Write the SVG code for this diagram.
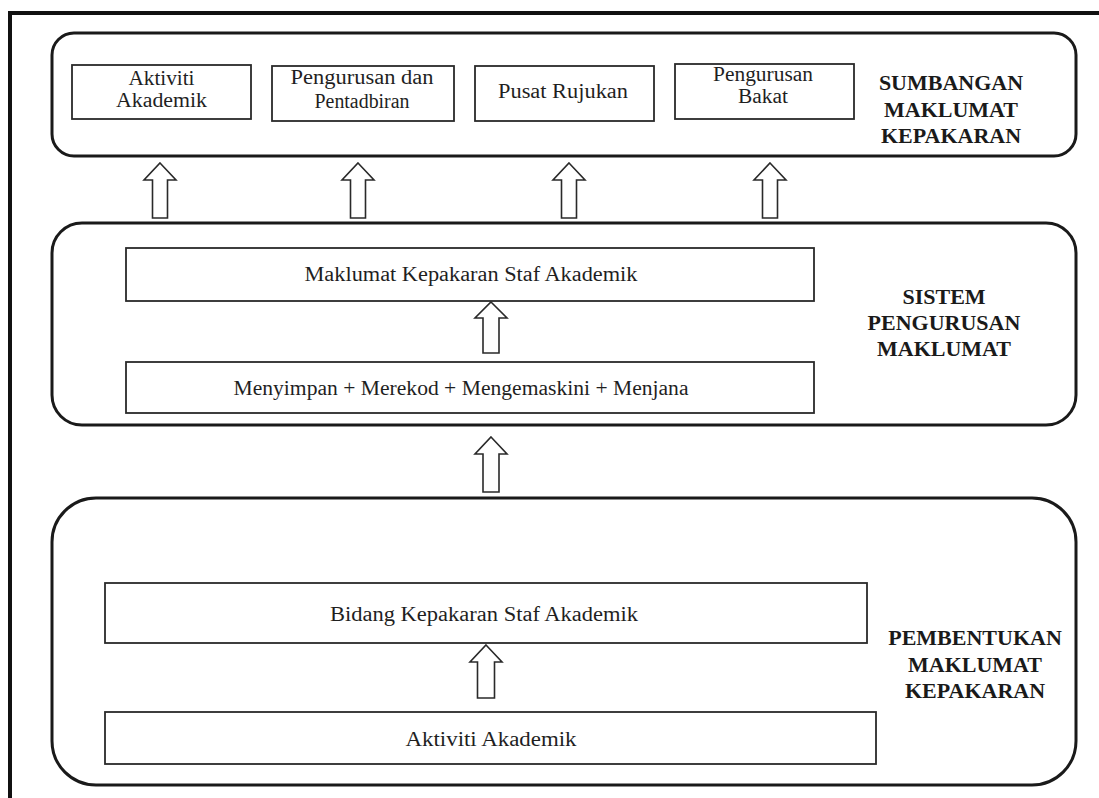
<svg xmlns="http://www.w3.org/2000/svg" width="1099" height="798" viewBox="0 0 1099 798">
<style>
.frame{fill:none;stroke:#111;stroke-width:4}
.panel{fill:#fff;stroke:#1a1a1a;stroke-width:3}
.box{fill:#fff;stroke:#2a2a2a;stroke-width:1.8}
.arrow{fill:#fff;stroke:#2a2a2a;stroke-width:1.6;stroke-linejoin:miter}
text{font-family:'Liberation Serif','DejaVu Serif',serif}
.t{font-size:20px;font-weight:normal;fill:#1f1f1f;text-anchor:middle}
.h{font-size:22px;font-weight:bold;fill:#1a1a1a;text-anchor:middle}
</style>
<rect x="0" y="0" width="1099" height="798" fill="#fff"/>
<rect class="frame" x="10" y="13" width="1110" height="810"/>

<g id="panel-sumbangan">
<rect class="panel" x="52" y="33" width="1024" height="123" rx="22" ry="22"/>
<text class="h" x="951" y="90">SUMBANGAN</text>
<text class="h" x="951" y="117">MAKLUMAT</text>
<text class="h" x="951" y="143">KEPAKARAN</text>
</g>
<g id="box-aktiviti-top">
<rect class="box" x="72" y="65" width="179" height="54"/>
<text class="t" x="161.5" y="85" textLength="66" lengthAdjust="spacingAndGlyphs">Aktiviti</text>
<text class="t" x="161.5" y="107" textLength="91" lengthAdjust="spacingAndGlyphs">Akademik</text>
</g>
<g id="box-pengurusan-pentadbiran">
<rect class="box" x="272" y="66" width="182" height="55"/>
<text class="t" x="362" y="84" textLength="143" lengthAdjust="spacingAndGlyphs">Pengurusan dan</text>
<text class="t" x="362" y="108" textLength="95" lengthAdjust="spacingAndGlyphs">Pentadbiran</text>
</g>
<g id="box-pusat-rujukan">
<rect class="box" x="475" y="66" width="179" height="55"/>
<text class="t" x="563" y="98" textLength="130" lengthAdjust="spacingAndGlyphs">Pusat Rujukan</text>
</g>
<g id="box-pengurusan-bakat">
<rect class="box" x="675" y="64" width="179" height="55"/>
<text class="t" x="763" y="81" textLength="100" lengthAdjust="spacingAndGlyphs">Pengurusan</text>
<text class="t" x="763" y="103" textLength="50" lengthAdjust="spacingAndGlyphs">Bakat</text>
</g>

<g id="panel-sistem">
<rect class="panel" x="52" y="223" width="1024" height="202" rx="30" ry="30"/>
<text class="h" x="944" y="304">SISTEM</text>
<text class="h" x="944" y="330">PENGURUSAN</text>
<text class="h" x="944" y="356">MAKLUMAT</text>
</g>
<g id="box-maklumat-kepakaran">
<rect class="box" x="126" y="248" width="688" height="53"/>
<text class="t" x="471" y="281" textLength="333" lengthAdjust="spacingAndGlyphs">Maklumat Kepakaran Staf Akademik</text>
</g>
<g id="box-menyimpan">
<rect class="box" x="126" y="362" width="688" height="51"/>
<text class="t" x="461" y="395" textLength="455" lengthAdjust="spacingAndGlyphs">Menyimpan + Merekod + Mengemaskini + Menjana</text>
</g>

<g id="panel-pembentukan">
<rect class="panel" x="52" y="498" width="1024" height="287" rx="44" ry="44"/>
<text class="h" x="975" y="645">PEMBENTUKAN</text>
<text class="h" x="975" y="672">MAKLUMAT</text>
<text class="h" x="975" y="698">KEPAKARAN</text>
</g>
<g id="box-bidang-kepakaran">
<rect class="box" x="105" y="583" width="762" height="60"/>
<text class="t" x="484" y="621" textLength="308" lengthAdjust="spacingAndGlyphs">Bidang Kepakaran Staf Akademik</text>
</g>
<g id="box-aktiviti-bottom">
<rect class="box" x="105" y="712" width="771" height="52"/>
<text class="t" x="491" y="746" textLength="171" lengthAdjust="spacingAndGlyphs">Aktiviti Akademik</text>
</g>

<g id="connectors">
<path class="arrow" d="M160,163 L176,180 L167.5,180 L167.5,218 L152.5,218 L152.5,180 L144,180 Z"/>
<path class="arrow" d="M358,163 L374,180 L365.5,180 L365.5,218 L350.5,218 L350.5,180 L342,180 Z"/>
<path class="arrow" d="M569,163 L585,180 L576.5,180 L576.5,218 L561.5,218 L561.5,180 L553,180 Z"/>
<path class="arrow" d="M770,163 L786,180 L777.5,180 L777.5,218 L762.5,218 L762.5,180 L754,180 Z"/>
<path class="arrow" d="M491,302 L507,318 L499,318 L499,353 L483,353 L483,318 L475,318 Z"/>
<path class="arrow" d="M491,437 L507,454 L499,454 L499,492 L483,492 L483,454 L475,454 Z"/>
<path class="arrow" d="M486,645 L502,662 L494.5,662 L494.5,698 L477.5,698 L477.5,662 L470,662 Z"/>
</g>
</svg>
